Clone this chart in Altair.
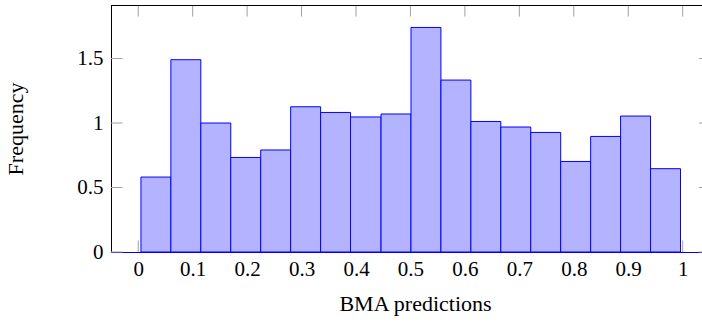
import altair as alt
import pandas as pd

# Histogram bins (left/right edges) and bar heights
bin_edges = [0.005, 0.060, 0.115, 0.170, 0.225, 0.280, 0.335, 0.390, 0.446, 0.501,
             0.556, 0.611, 0.666, 0.721, 0.776, 0.831, 0.886, 0.941, 0.996]
frequency = [0.581, 1.491, 1.000, 0.733, 0.791, 1.126, 1.082, 1.047, 1.070,
             1.741, 1.333, 1.012, 0.969, 0.927, 0.702, 0.896, 1.054, 0.646]
x_ticks = [0, 0.1, 0.2, 0.3, 0.4, 0.5, 0.6, 0.7, 0.8, 0.9, 1]
y_ticks = [0, 0.5, 1, 1.5]

bars = pd.DataFrame({
    "lo": bin_edges[:-1],
    "hi": bin_edges[1:],
    "freq": frequency,
    "base": [0.0] * len(frequency),
})
xt = pd.DataFrame({"t": x_ticks})
yt = pd.DataFrame({"t": y_ticks})

W, H = 591, 247
FONT = "'Liberation Serif', 'Times New Roman', 'DejaVu Serif', serif"
TICK = "#a0a0a0"

xs = alt.Scale(domain=[-0.05, 1.0355], nice=False, zero=False)
ys = alt.Scale(domain=[0, 1.915], nice=False, zero=False)

bottom_ticks = alt.Chart(xt).mark_rule(color=TICK, strokeWidth=1).encode(
    x=alt.X("t:Q", scale=xs, axis=None),
    y=alt.value(H - 11.5), y2=alt.value(H),
)

hist = alt.Chart(bars).mark_rect(
    fill="#b3b3ff", stroke="#0000ff", strokeWidth=1, opacity=1
).encode(
    x=alt.X("lo:Q", scale=xs, axis=alt.Axis(
        values=x_ticks, format="~g", title="BMA predictions",
        ticks=False, tickSize=0, grid=False,
        domainColor="#0000ff", domainWidth=1,
        labelFont=FONT, labelFontSize=21, labelColor="black",
        labelBaseline="alphabetic", labelPadding=23,
        labelFlush=False, labelOverlap=False,
        titleFont=FONT, titleFontSize=22, titleFontWeight="normal",
        titleColor="black", titleBaseline="alphabetic", titleAlign="center",
        titleX=304, titleY=58,
    )),
    x2="hi:Q",
    y=alt.Y("freq:Q", scale=ys, axis=alt.Axis(
        values=y_ticks, format="~g", title="Frequency",
        ticks=False, tickSize=0, grid=False,
        domainColor="black", domainWidth=1,
        labelFont=FONT, labelFontSize=21, labelColor="black",
        labelBaseline="middle", labelPadding=8, labelAlign="right",
        labelFlush=False, labelOverlap=False,
        titleFont=FONT, titleFontSize=22, titleFontWeight="normal",
        titleColor="black", titleAngle=270, titleBaseline="alphabetic",
        titleAlign="center", titleX=-89, titleY=H / 2,
    )),
    y2="base:Q",
)

top_ticks = alt.Chart(xt).mark_rule(color=TICK, strokeWidth=1).encode(
    x=alt.X("t:Q", scale=xs, axis=None),
    y=alt.value(0), y2=alt.value(11.5),
)

left_ticks = alt.Chart(yt).mark_rule(color=TICK, strokeWidth=1).encode(
    y=alt.Y("t:Q", scale=ys, axis=None),
    x=alt.value(0), x2=alt.value(11.5),
)

right_ticks = alt.Chart(yt).mark_rule(color=TICK, strokeWidth=1).encode(
    y=alt.Y("t:Q", scale=ys, axis=None),
    x=alt.value(W - 3), x2=alt.value(W),
)

top_frame = alt.Chart(xt).mark_rule(color="black", strokeWidth=1).encode(
    x=alt.value(0), x2=alt.value(W), y=alt.value(0.5),
)

chart = alt.layer(
    bottom_ticks, hist, top_ticks, left_ticks, right_ticks, top_frame
).resolve_axis(
    x="independent", y="independent"
).properties(
    width=W, height=H,
    autosize="none",
    padding={"left": 111, "top": 5, "right": 0, "bottom": 70},
    background="white",
).configure_view(stroke=None)

chart.save("out.html", embed_options={"renderer": "svg", "actions": False})
